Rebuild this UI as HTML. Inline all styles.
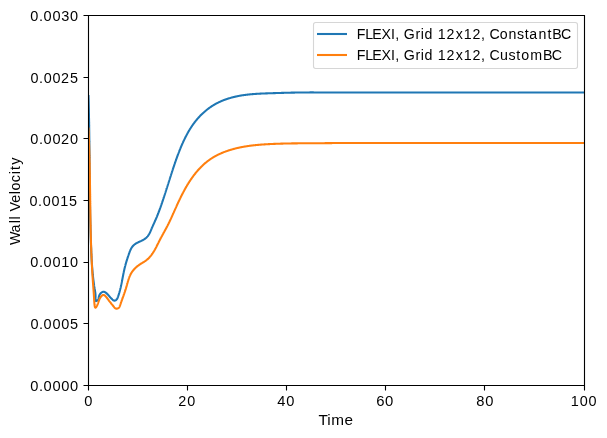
<!DOCTYPE html>
<html><head><meta charset="utf-8"><title>Wall Velocity vs Time</title>
<style>
html,body{margin:0;padding:0;background:#ffffff;}
body{width:607px;height:438px;overflow:hidden;}
svg{display:block;}
text{font-family:"Liberation Sans",sans-serif;font-size:13.889px;fill:#000000;font-kerning:none;}
.tx{opacity:0.999;}
</style></head><body>
<svg width="607" height="438" viewBox="0 0 607 438">
<rect x="0" y="0" width="607" height="438" fill="#ffffff"/>
<defs><clipPath id="axclip"><rect x="88.5" y="15.5" width="496" height="370"/></clipPath></defs>

<g clip-path="url(#axclip)" fill="none" stroke-width="2.083" stroke-linejoin="round" stroke-linecap="square">
<path stroke="#1f77b4" d="M88.50 96.00L88.51 96.38L88.52 96.76L88.53 97.14L88.54 97.52L88.55 97.90L88.56 98.27L88.58 98.65L88.59 99.03L88.60 99.41L88.61 99.79L88.62 100.17L88.63 100.55L88.64 100.93L88.65 101.31L88.66 101.69L88.67 102.06L88.68 102.44L88.69 102.82L88.69 103.20L88.70 103.58L88.71 103.96L88.72 104.34L88.73 104.72L88.74 105.10L88.75 105.47L88.76 105.85L88.77 106.23L88.78 106.61L88.79 106.99L88.79 107.37L88.80 107.75L88.81 108.12L88.82 108.50L88.83 108.88L88.84 109.26L88.85 109.64L88.85 110.02L88.86 110.40L88.87 110.78L88.88 111.15L88.89 111.53L88.89 111.91L88.90 112.29L88.91 112.67L88.92 113.05L88.93 113.42L88.93 113.80L88.94 114.18L88.95 114.56L88.95 114.94L88.96 115.32L88.97 115.70L88.98 116.07L88.98 116.45L88.99 116.83L89.00 117.21L89.00 117.59L89.01 117.97L89.02 118.34L89.03 118.72L89.03 119.10L89.04 119.48L89.05 119.86L89.05 120.24L89.06 120.61L89.06 120.99L89.07 121.37L89.08 121.75L89.08 122.13L89.09 122.50L89.10 122.88L89.10 123.26L89.11 123.64L89.11 124.02L89.12 124.40L89.13 124.77L89.13 125.15L89.14 125.53L89.14 125.91L89.15 126.29L89.16 126.66L89.16 127.04L89.17 127.42L89.17 127.80L89.18 128.18L89.18 128.55L89.19 128.93L89.19 129.31L89.20 129.69L89.20 130.07L89.21 130.44L89.21 130.82L89.22 131.20L89.23 131.58L89.23 131.96L89.24 132.33L89.24 132.71L89.25 133.09L89.25 133.47L89.25 133.85L89.26 134.22L89.26 134.60L89.27 134.98L89.27 135.36L89.28 135.74L89.28 136.11L89.29 136.49L89.29 136.87L89.30 137.25L89.30 137.62L89.31 138.00L89.31 138.38L89.31 138.76L89.32 139.14L89.32 139.51L89.33 139.89L89.33 140.27L89.34 140.65L89.34 141.02L89.34 141.40L89.35 141.78L89.35 142.16L89.36 142.54L89.36 142.91L89.36 143.29L89.37 143.67L89.37 144.05L89.38 144.42L89.38 144.80L89.38 145.18L89.39 145.56L89.39 145.94L89.40 146.31L89.40 146.69L89.40 147.07L89.41 147.45L89.41 147.82L89.42 148.20L89.42 148.58L89.42 148.96L89.43 149.33L89.43 149.71L89.43 150.09L89.44 150.47L89.44 150.85L89.44 151.22L89.45 151.60L89.45 151.98L89.45 152.36L89.46 152.73L89.46 153.11L89.47 153.49L89.47 153.87L89.47 154.24L89.48 154.62L89.48 155.00L89.48 155.38L89.49 155.75L89.49 156.13L89.49 156.51L89.50 156.89L89.50 157.26L89.50 157.64L89.51 158.02L89.51 158.40L89.51 158.78L89.52 159.15L89.52 159.53L89.52 159.91L89.53 160.29L89.53 160.66L89.53 161.04L89.54 161.42L89.54 161.80L89.54 162.17L89.55 162.55L89.55 162.93L89.55 163.31L89.56 163.68L89.56 164.06L89.56 164.44L89.57 164.82L89.57 165.19L89.57 165.57L89.57 165.95L89.58 166.33L89.58 166.70L89.58 167.08L89.59 167.46L89.59 167.84L89.59 168.21L89.60 168.59L89.60 168.97L89.60 169.35L89.61 169.72L89.61 170.10L89.61 170.48L89.62 170.86L89.62 171.24L89.62 171.61L89.63 171.99L89.63 172.37L89.63 172.75L89.64 173.12L89.64 173.50L89.64 173.88L89.65 174.26L89.65 174.63L89.65 175.01L89.66 175.39L89.66 175.77L89.67 176.14L89.67 176.52L89.67 176.90L89.68 177.28L89.68 177.65L89.68 178.03L89.69 178.41L89.69 178.79L89.69 179.16L89.70 179.54L89.70 179.92L89.70 180.30L89.71 180.68L89.71 181.05L89.72 181.43L89.72 181.81L89.72 182.19L89.73 182.56L89.73 182.94L89.73 183.32L89.74 183.70L89.74 184.07L89.75 184.45L89.75 184.83L89.75 185.21L89.76 185.58L89.76 185.96L89.77 186.34L89.77 186.72L89.77 187.10L89.78 187.47L89.78 187.85L89.79 188.23L89.79 188.61L89.79 188.98L89.80 189.36L89.80 189.74L89.81 190.12L89.81 190.50L89.82 190.87L89.82 191.25L89.82 191.63L89.83 192.01L89.83 192.38L89.84 192.76L89.84 193.14L89.85 193.52L89.85 193.90L89.86 194.27L89.86 194.65L89.87 195.03L89.87 195.41L89.88 195.78L89.88 196.16L89.89 196.54L89.89 196.92L89.90 197.30L89.90 197.67L89.91 198.05L89.91 198.43L89.92 198.81L89.92 199.19L89.93 199.56L89.93 199.94L89.94 200.32L89.94 200.70L89.95 201.08L89.95 201.45L89.96 201.83L89.96 202.21L89.97 202.59L89.98 202.96L89.98 203.34L89.99 203.72L89.99 204.10L90.00 204.48L90.00 204.86L90.01 205.23L90.02 205.61L90.02 205.99L90.03 206.37L90.03 206.75L90.04 207.12L90.05 207.50L90.05 207.88L90.06 208.26L90.07 208.64L90.07 209.01L90.08 209.39L90.09 209.77L90.09 210.15L90.10 210.53L90.11 210.91L90.11 211.28L90.12 211.66L90.13 212.04L90.13 212.42L90.14 212.80L90.15 213.17L90.15 213.55L90.16 213.93L90.17 214.31L90.18 214.69L90.18 215.07L90.19 215.44L90.20 215.82L90.21 216.20L90.21 216.58L90.22 216.96L90.23 217.34L90.24 217.71L90.25 218.09L90.25 218.47L90.26 218.85L90.27 219.23L90.28 219.61L90.29 219.99L90.29 220.36L90.30 220.74L90.31 221.12L90.32 221.50L90.33 221.88L90.34 222.26L90.35 222.64L90.35 223.01L90.36 223.39L90.37 223.77L90.38 224.15L90.39 224.53L90.40 224.91L90.41 225.29L90.42 225.66L90.43 226.04L90.44 226.42L90.45 226.80L90.46 227.18L90.47 227.56L90.48 227.94L90.49 228.32L90.50 228.69L90.51 229.07L90.52 229.45L90.53 229.83L90.54 230.21L90.55 230.59L90.56 230.97L90.57 231.35L90.58 231.73L90.59 232.10L90.60 232.48L90.61 232.86L90.62 233.24L90.63 233.62L90.64 234.00L90.65 234.38L90.67 234.76L90.68 235.14L90.69 235.52L90.70 235.90L90.71 236.27L90.72 236.65L90.74 237.03L90.75 237.41L90.76 237.79L90.77 238.17L90.78 238.55L90.80 238.93L90.81 239.31L90.82 239.69L90.83 240.07L90.85 240.45L90.86 240.83L90.87 241.20L90.88 241.58L90.90 241.96L90.91 242.34L90.92 242.72L90.94 243.10L90.95 243.48L90.96 243.86L90.98 244.24L90.99 244.62L91.00 245.00L91.02 245.38L91.03 245.76L91.05 246.14L91.06 246.52L91.08 246.90L91.09 247.28L91.10 247.66L91.12 248.04L91.13 248.42L91.15 248.80L91.16 249.18L91.18 249.55L91.20 249.93L91.21 250.31L91.23 250.69L91.24 251.07L91.26 251.45L91.28 251.83L91.29 252.21L91.31 252.59L91.33 252.97L91.34 253.35L91.36 253.73L91.38 254.11L91.40 254.49L91.41 254.87L91.43 255.25L91.45 255.63L91.47 256.00L91.49 256.38L91.51 256.76L91.53 257.14L91.55 257.52L91.57 257.90L91.59 258.28L91.61 258.66L91.63 259.04L91.65 259.41L91.67 259.79L91.69 260.17L91.72 260.55L91.74 260.93L91.76 261.31L91.78 261.68L91.81 262.06L91.83 262.44L91.85 262.82L91.88 263.19L91.90 263.57L91.93 263.95L91.95 264.33L91.98 264.70L92.01 265.08L92.03 265.46L92.06 265.83L92.09 266.21L92.11 266.59L92.14 266.96L92.17 267.34L92.20 267.72L92.23 268.09L92.26 268.47L92.29 268.84L92.32 269.22L92.35 269.60L92.38 269.97L92.41 270.35L92.45 270.72L92.48 271.10L92.51 271.47L92.54 271.85L92.58 272.22L92.61 272.59L92.65 272.97L92.68 273.34L92.72 273.72L92.76 274.09L92.79 274.46L92.83 274.84L92.87 275.21L92.91 275.58L92.95 275.96L92.99 276.33L93.03 276.70L93.07 277.07L93.11 277.44L93.15 277.82L93.19 278.19L93.23 278.56L93.28 278.93L93.32 279.30L93.37 279.67L93.41 280.04L93.46 280.41L93.50 280.78L93.55 281.15L93.60 281.52L93.64 281.89L93.69 282.26L93.74 282.63L93.79 283.00L93.84 283.37L93.89 283.73L93.94 284.10L94.00 284.47L94.05 284.84L94.10 285.20L94.16 285.57L94.21 285.94L94.27 286.31L94.32 286.67L94.38 287.04L94.44 287.40L94.50 287.77L94.55 288.13L94.61 288.50L94.67 288.86L94.74 289.23L94.80 289.59L94.86 289.96L94.92 290.32L94.98 290.68L95.04 291.05L95.10 291.42L95.16 291.80L95.22 292.17L95.27 292.56L95.32 292.95L95.37 293.34L95.41 293.74L95.44 294.15L95.47 294.57L95.50 295.00L95.52 295.44L95.53 295.89L95.53 296.35L95.53 296.83L95.52 297.31L95.50 297.80L95.49 298.29L95.48 298.76L95.48 299.21L95.49 299.63L95.52 300.01L95.57 300.35L95.65 300.64L95.75 300.86L95.90 301.02L96.08 301.09L96.30 301.08L96.56 300.98L96.84 300.81L97.12 300.59L97.39 300.33L97.63 300.05L97.83 299.74L98.01 299.42L98.17 299.08L98.31 298.72L98.44 298.36L98.55 297.98L98.66 297.60L98.77 297.21L98.87 296.82L98.98 296.43L99.11 296.04L99.24 295.65L99.39 295.27L99.56 294.90L99.75 294.54L99.96 294.19L100.19 293.86L100.44 293.54L100.70 293.25L100.97 292.97L101.26 292.72L101.56 292.50L101.86 292.30L102.17 292.13L102.49 291.99L102.81 291.89L103.14 291.83L103.46 291.80L103.79 291.82L104.11 291.87L104.44 291.96L104.76 292.08L105.08 292.23L105.40 292.41L105.71 292.62L106.03 292.85L106.34 293.10L106.64 293.36L106.95 293.64L107.25 293.94L107.54 294.24L107.83 294.55L108.12 294.87L108.40 295.19L108.68 295.50L108.95 295.82L109.21 296.12L109.47 296.42L109.72 296.71L109.96 296.99L110.20 297.25L110.43 297.51L110.67 297.76L110.90 298.01L111.14 298.25L111.39 298.50L111.64 298.75L111.91 299.01L112.19 299.28L112.48 299.55L112.79 299.82L113.10 300.07L113.43 300.29L113.78 300.46L114.13 300.58L114.49 300.63L114.86 300.60L115.24 300.50L115.60 300.33L115.95 300.11L116.27 299.86L116.55 299.59L116.80 299.29L117.02 298.99L117.21 298.67L117.38 298.33L117.53 297.99L117.67 297.65L117.81 297.30L117.94 296.94L118.06 296.59L118.19 296.24L118.31 295.88L118.43 295.53L118.55 295.17L118.67 294.81L118.78 294.46L118.89 294.10L119.00 293.74L119.11 293.38L119.22 293.02L119.32 292.66L119.43 292.29L119.53 291.93L119.63 291.57L119.73 291.20L119.83 290.84L119.92 290.47L120.02 290.11L120.11 289.74L120.20 289.37L120.29 289.00L120.38 288.64L120.47 288.27L120.56 287.90L120.64 287.53L120.73 287.16L120.81 286.79L120.90 286.42L120.98 286.05L121.06 285.68L121.14 285.30L121.22 284.93L121.30 284.56L121.37 284.19L121.45 283.81L121.53 283.44L121.60 283.07L121.68 282.70L121.75 282.32L121.83 281.95L121.90 281.57L121.97 281.20L122.05 280.83L122.12 280.45L122.19 280.08L122.26 279.71L122.34 279.33L122.41 278.96L122.48 278.58L122.55 278.21L122.62 277.84L122.70 277.46L122.77 277.09L122.84 276.72L122.91 276.34L122.98 275.97L123.06 275.60L123.13 275.23L123.20 274.86L123.28 274.48L123.35 274.11L123.42 273.74L123.50 273.37L123.57 273.00L123.65 272.63L123.73 272.26L123.80 271.89L123.88 271.52L123.96 271.15L124.04 270.79L124.12 270.42L124.20 270.05L124.28 269.69L124.37 269.32L124.45 268.96L124.54 268.59L124.62 268.23L124.71 267.86L124.80 267.50L124.89 267.14L124.98 266.78L125.07 266.42L125.17 266.06L125.26 265.70L125.36 265.34L125.45 264.98L125.55 264.62L125.65 264.26L125.75 263.90L125.85 263.54L125.95 263.18L126.06 262.82L126.16 262.47L126.26 262.11L126.37 261.75L126.48 261.39L126.59 261.03L126.70 260.67L126.81 260.32L126.92 259.96L127.03 259.60L127.14 259.24L127.26 258.88L127.37 258.52L127.49 258.16L127.61 257.80L127.73 257.43L127.85 257.07L127.97 256.71L128.09 256.35L128.21 255.98L128.34 255.62L128.46 255.25L128.59 254.89L128.71 254.52L128.84 254.15L128.97 253.78L129.10 253.41L129.23 253.05L129.37 252.68L129.50 252.31L129.64 251.94L129.78 251.58L129.93 251.21L130.07 250.85L130.23 250.50L130.38 250.14L130.54 249.79L130.71 249.44L130.88 249.10L131.05 248.76L131.23 248.43L131.42 248.10L131.61 247.77L131.81 247.46L132.02 247.15L132.23 246.85L132.45 246.55L132.68 246.26L132.92 245.98L133.16 245.71L133.42 245.45L133.68 245.20L133.95 244.95L134.23 244.72L134.52 244.49L134.81 244.27L135.11 244.06L135.42 243.85L135.73 243.65L136.05 243.46L136.38 243.27L136.71 243.09L137.04 242.91L137.38 242.73L137.72 242.56L138.07 242.39L138.41 242.23L138.76 242.06L139.11 241.90L139.46 241.73L139.81 241.57L140.16 241.41L140.51 241.25L140.86 241.08L141.21 240.92L141.56 240.75L141.90 240.58L142.25 240.40L142.58 240.23L142.92 240.05L143.25 239.86L143.58 239.67L143.90 239.47L144.21 239.27L144.53 239.06L144.83 238.85L145.13 238.63L145.42 238.40L145.71 238.17L145.99 237.93L146.26 237.68L146.53 237.43L146.79 237.17L147.05 236.90L147.30 236.63L147.54 236.36L147.78 236.07L148.00 235.78L148.23 235.49L148.44 235.19L148.65 234.88L148.85 234.56L149.04 234.24L149.23 233.92L149.42 233.59L149.59 233.25L149.77 232.91L149.93 232.57L150.10 232.22L150.26 231.88L150.41 231.52L150.57 231.17L150.72 230.81L150.87 230.46L151.02 230.10L151.17 229.74L151.31 229.38L151.46 229.02L151.61 228.67L151.76 228.31L151.90 227.95L152.05 227.60L152.21 227.25L152.36 226.90L152.51 226.55L152.67 226.20L152.82 225.85L152.98 225.50L153.13 225.16L153.29 224.81L153.45 224.47L153.61 224.13L153.76 223.79L153.92 223.44L154.08 223.10L154.24 222.76L154.39 222.42L154.55 222.08L154.71 221.73L154.86 221.39L155.02 221.05L155.17 220.70L155.32 220.36L155.47 220.02L155.62 219.67L155.77 219.33L155.92 218.98L156.07 218.64L156.22 218.29L156.37 217.94L156.51 217.60L156.66 217.25L156.80 216.90L156.95 216.55L157.09 216.20L157.23 215.85L157.37 215.50L157.51 215.16L157.65 214.81L157.79 214.45L157.93 214.10L158.07 213.75L158.20 213.40L158.34 213.05L158.48 212.70L158.61 212.34L158.75 211.99L158.88 211.64L159.01 211.29L159.15 210.93L159.28 210.58L159.41 210.22L159.54 209.87L159.67 209.52L159.80 209.16L159.93 208.81L160.06 208.45L160.19 208.09L160.32 207.74L160.44 207.38L160.57 207.03L160.70 206.67L160.82 206.31L160.95 205.96L161.07 205.60L161.20 205.24L161.32 204.88L161.45 204.53L161.57 204.17L161.69 203.81L161.81 203.45L161.94 203.09L162.06 202.73L162.18 202.38L162.30 202.02L162.42 201.66L162.54 201.30L162.66 200.94L162.78 200.58L162.90 200.22L163.02 199.86L163.14 199.50L163.26 199.14L163.38 198.78L163.49 198.42L163.61 198.06L163.73 197.70L163.85 197.34L163.97 196.98L164.08 196.62L164.20 196.26L164.32 195.90L164.43 195.54L164.55 195.18L164.67 194.82L164.78 194.46L164.90 194.10L165.01 193.74L165.13 193.38L165.25 193.02L165.36 192.66L165.48 192.30L165.59 191.94L165.71 191.58L165.82 191.22L165.94 190.86L166.05 190.50L166.17 190.14L166.28 189.78L166.40 189.42L166.51 189.05L166.63 188.69L166.74 188.33L166.86 187.97L166.97 187.61L167.09 187.25L167.20 186.89L167.32 186.53L167.43 186.17L167.55 185.81L167.66 185.45L167.77 185.09L167.89 184.73L168.00 184.37L168.12 184.01L168.23 183.65L168.35 183.29L168.46 182.93L168.58 182.57L168.69 182.21L168.81 181.85L168.92 181.49L169.03 181.13L169.15 180.77L169.26 180.41L169.38 180.05L169.49 179.69L169.61 179.33L169.72 178.97L169.84 178.61L169.95 178.25L170.07 177.89L170.18 177.53L170.30 177.17L170.41 176.81L170.53 176.45L170.65 176.09L170.76 175.73L170.88 175.37L170.99 175.01L171.11 174.65L171.22 174.29L171.34 173.93L171.46 173.57L171.57 173.21L171.69 172.85L171.81 172.49L171.92 172.13L172.04 171.78L172.16 171.42L172.28 171.06L172.39 170.70L172.51 170.34L172.63 169.98L172.75 169.62L172.87 169.26L172.98 168.90L173.10 168.54L173.22 168.19L173.34 167.83L173.46 167.47L173.58 167.11L173.70 166.75L173.82 166.39L173.94 166.04L174.06 165.68L174.18 165.32L174.30 164.96L174.42 164.60L174.54 164.24L174.67 163.89L174.79 163.53L174.91 163.17L175.03 162.81L175.16 162.46L175.28 162.10L175.40 161.74L175.53 161.38L175.65 161.03L175.78 160.67L175.90 160.31L176.03 159.96L176.15 159.60L176.28 159.24L176.40 158.89L176.53 158.53L176.66 158.18L176.79 157.82L176.91 157.47L177.04 157.11L177.17 156.75L177.30 156.40L177.43 156.05L177.56 155.69L177.69 155.34L177.83 154.98L177.96 154.63L178.09 154.27L178.22 153.92L178.36 153.57L178.49 153.21L178.63 152.86L178.76 152.51L178.90 152.15L179.04 151.80L179.17 151.45L179.31 151.10L179.45 150.75L179.59 150.39L179.73 150.04L179.87 149.69L180.01 149.34L180.15 148.99L180.29 148.64L180.44 148.29L180.58 147.94L180.72 147.59L180.87 147.24L181.02 146.89L181.16 146.55L181.31 146.20L181.46 145.85L181.61 145.50L181.76 145.16L181.91 144.81L182.06 144.46L182.21 144.12L182.36 143.77L182.51 143.42L182.67 143.08L182.82 142.73L182.98 142.39L183.14 142.04L183.29 141.70L183.45 141.36L183.61 141.01L183.77 140.67L183.93 140.33L184.10 139.99L184.26 139.64L184.42 139.30L184.59 138.96L184.75 138.62L184.92 138.28L185.09 137.94L185.26 137.60L185.43 137.26L185.60 136.93L185.77 136.59L185.94 136.25L186.12 135.92L186.29 135.58L186.47 135.24L186.65 134.91L186.82 134.58L187.00 134.24L187.18 133.91L187.37 133.58L187.55 133.25L187.73 132.92L187.92 132.59L188.10 132.26L188.29 131.93L188.48 131.60L188.67 131.27L188.86 130.95L189.05 130.62L189.25 130.30L189.44 129.97L189.64 129.65L189.84 129.32L190.03 129.00L190.23 128.68L190.44 128.36L190.64 128.04L190.84 127.72L191.05 127.41L191.25 127.09L191.46 126.77L191.67 126.46L191.88 126.15L192.09 125.83L192.31 125.52L192.52 125.21L192.74 124.90L192.96 124.59L193.18 124.28L193.40 123.98L193.62 123.67L193.84 123.36L194.07 123.06L194.30 122.76L194.52 122.46L194.75 122.16L194.99 121.86L195.22 121.56L195.45 121.26L195.69 120.96L195.93 120.67L196.17 120.37L196.41 120.08L196.65 119.79L196.89 119.50L197.14 119.21L197.39 118.92L197.63 118.64L197.88 118.35L198.13 118.07L198.39 117.78L198.64 117.50L198.90 117.22L199.15 116.94L199.41 116.67L199.67 116.39L199.93 116.12L200.20 115.84L200.46 115.57L200.73 115.30L200.99 115.03L201.26 114.76L201.53 114.50L201.80 114.23L202.08 113.97L202.35 113.71L202.62 113.45L202.90 113.19L203.18 112.93L203.46 112.68L203.74 112.42L204.02 112.17L204.31 111.92L204.59 111.67L204.88 111.42L205.16 111.18L205.45 110.93L205.74 110.69L206.04 110.45L206.33 110.21L206.62 109.97L206.92 109.73L207.22 109.50L207.51 109.27L207.81 109.04L208.11 108.81L208.42 108.58L208.72 108.35L209.02 108.13L209.33 107.91L209.64 107.69L209.94 107.47L210.25 107.25L210.56 107.04L210.88 106.83L211.19 106.62L211.50 106.41L211.82 106.20L212.14 106.00L212.45 105.79L212.77 105.59L213.09 105.39L213.42 105.20L213.74 105.00L214.06 104.81L214.39 104.62L214.71 104.43L215.04 104.24L215.37 104.06L215.70 103.87L216.03 103.69L216.36 103.51L216.69 103.34L217.03 103.16L217.36 102.99L217.70 102.82L218.04 102.65L218.38 102.49L218.71 102.32L219.06 102.16L219.40 102.00L219.74 101.84L220.08 101.68L220.43 101.53L220.77 101.37L221.12 101.22L221.46 101.07L221.81 100.93L222.16 100.78L222.51 100.64L222.86 100.49L223.21 100.35L223.56 100.22L223.91 100.08L224.27 99.94L224.62 99.81L224.98 99.68L225.33 99.55L225.69 99.42L226.04 99.30L226.40 99.17L226.76 99.05L227.12 98.93L227.48 98.81L227.84 98.69L228.20 98.58L228.56 98.47L228.92 98.35L229.28 98.24L229.65 98.13L230.01 98.03L230.37 97.92L230.74 97.82L231.10 97.71L231.47 97.61L231.84 97.51L232.20 97.42L232.57 97.32L232.94 97.23L233.30 97.13L233.67 97.04L234.04 96.95L234.41 96.86L234.78 96.78L235.15 96.69L235.52 96.61L235.88 96.53L236.26 96.44L236.63 96.37L237.00 96.29L237.37 96.21L237.74 96.14L238.11 96.06L238.48 95.99L238.85 95.92L239.22 95.85L239.60 95.78L239.97 95.71L240.34 95.65L240.71 95.58L241.09 95.52L241.46 95.46L241.83 95.40L242.20 95.34L242.58 95.28L242.95 95.22L243.32 95.17L243.70 95.11L244.07 95.06L244.45 95.01L244.82 94.96L245.20 94.91L245.57 94.86L245.94 94.81L246.32 94.76L246.69 94.72L247.07 94.67L247.44 94.63L247.82 94.59L248.19 94.55L248.57 94.50L248.95 94.47L249.32 94.43L249.70 94.39L250.07 94.35L250.45 94.32L250.83 94.28L251.20 94.25L251.58 94.21L251.95 94.18L252.33 94.15L252.71 94.12L253.09 94.09L253.46 94.06L253.84 94.03L254.22 94.00L254.59 93.97L254.97 93.95L255.35 93.92L255.72 93.89L256.10 93.87L256.48 93.84L256.86 93.82L257.23 93.80L257.61 93.78L257.99 93.75L258.37 93.73L258.75 93.71L259.12 93.69L259.50 93.67L259.88 93.65L260.26 93.63L260.64 93.62L261.01 93.60L261.39 93.58L261.77 93.56L262.15 93.55L262.53 93.53L262.91 93.51L263.28 93.50L263.66 93.48L264.04 93.47L264.42 93.45L264.80 93.44L265.18 93.42L265.55 93.41L265.93 93.40L266.31 93.38L266.69 93.37L267.07 93.36L267.45 93.34L267.82 93.33L268.20 93.32L268.58 93.31L268.96 93.29L269.34 93.28L269.72 93.27L270.10 93.26L270.47 93.24L270.85 93.23L271.23 93.22L271.61 93.21L271.99 93.19L272.36 93.18L272.74 93.17L273.12 93.16L273.50 93.15L273.88 93.13L274.26 93.12L274.63 93.11L275.01 93.10L275.39 93.09L275.77 93.07L276.15 93.06L276.52 93.05L276.90 93.04L277.28 93.03L277.66 93.02L278.04 93.00L278.41 92.99L278.79 92.98L279.17 92.97L279.55 92.96L279.93 92.95L280.30 92.94L280.68 92.93L281.06 92.92L281.44 92.90L281.82 92.89L282.19 92.88L282.57 92.87L282.95 92.86L283.33 92.85L283.70 92.84L284.08 92.83L284.46 92.82L284.84 92.81L285.22 92.80L285.59 92.79L285.97 92.78L286.35 92.77L286.73 92.76L287.11 92.75L287.48 92.74L287.86 92.73L288.24 92.72L288.62 92.72L288.99 92.71L289.37 92.70L289.75 92.69L290.13 92.68L290.51 92.67L290.88 92.66L291.26 92.66L291.64 92.65L292.02 92.64L292.39 92.63L292.77 92.62L293.15 92.62L293.53 92.61L293.91 92.60L294.28 92.59L294.66 92.59L295.04 92.58L295.42 92.57L295.79 92.56L296.17 92.56L296.55 92.55L296.93 92.54L297.31 92.54L297.68 92.53L298.06 92.53L298.44 92.52L298.82 92.51L299.20 92.51L299.57 92.50L299.95 92.50L300.33 92.49L300.71 92.49L301.08 92.48L301.46 92.48L301.84 92.47L302.22 92.47L302.60 92.46L302.97 92.46L303.35 92.46L303.73 92.45L304.11 92.45L304.49 92.45L304.86 92.44L305.24 92.44L305.62 92.44L306.00 92.43L306.38 92.43L306.75 92.43L307.13 92.43L307.51 92.42L307.89 92.42L308.27 92.42L308.65 92.42L309.02 92.42L309.40 92.42L309.78 92.41L310.16 92.41L310.54 92.41L310.92 92.41L311.29 92.41L311.67 92.41L312.05 92.41L312.43 92.41L312.81 92.41L313.19 92.41L313.56 92.41L313.94 92.42L314.32 92.42L314.70 92.42L315.08 92.42L315.46 92.42L315.83 92.42L316.21 92.43L316.59 92.43L316.97 92.43L317.35 92.43L317.73 92.44L318.11 92.44L318.49 92.44L318.86 92.45L319.24 92.45L319.62 92.46L320.00 92.46L584.50 92.42"/>
<path stroke="#ff7f0e" d="M88.50 128.60L88.52 128.95L88.53 129.30L88.55 129.66L88.57 130.01L88.58 130.36L88.60 130.71L88.62 131.06L88.63 131.42L88.65 131.77L88.66 132.12L88.68 132.47L88.69 132.82L88.71 133.18L88.73 133.53L88.74 133.88L88.76 134.23L88.77 134.58L88.79 134.94L88.80 135.29L88.81 135.64L88.83 135.99L88.84 136.34L88.86 136.69L88.87 137.05L88.89 137.40L88.90 137.75L88.91 138.10L88.93 138.45L88.94 138.81L88.95 139.16L88.97 139.51L88.98 139.86L88.99 140.21L89.01 140.56L89.02 140.92L89.03 141.27L89.04 141.62L89.06 141.97L89.07 142.32L89.08 142.67L89.09 143.03L89.11 143.38L89.12 143.73L89.13 144.08L89.14 144.43L89.15 144.78L89.16 145.13L89.18 145.49L89.19 145.84L89.20 146.19L89.21 146.54L89.22 146.89L89.23 147.24L89.24 147.60L89.25 147.95L89.26 148.30L89.27 148.65L89.28 149.00L89.30 149.35L89.31 149.70L89.32 150.06L89.33 150.41L89.34 150.76L89.35 151.11L89.36 151.46L89.37 151.81L89.38 152.16L89.38 152.51L89.39 152.87L89.40 153.22L89.41 153.57L89.42 153.92L89.43 154.27L89.44 154.62L89.45 154.97L89.46 155.33L89.47 155.68L89.48 156.03L89.49 156.38L89.49 156.73L89.50 157.08L89.51 157.43L89.52 157.78L89.53 158.13L89.54 158.49L89.54 158.84L89.55 159.19L89.56 159.54L89.57 159.89L89.58 160.24L89.58 160.59L89.59 160.94L89.60 161.30L89.61 161.65L89.62 162.00L89.62 162.35L89.63 162.70L89.64 163.05L89.64 163.40L89.65 163.75L89.66 164.10L89.67 164.45L89.67 164.81L89.68 165.16L89.69 165.51L89.69 165.86L89.70 166.21L89.71 166.56L89.71 166.91L89.72 167.26L89.73 167.61L89.73 167.97L89.74 168.32L89.75 168.67L89.75 169.02L89.76 169.37L89.77 169.72L89.77 170.07L89.78 170.42L89.78 170.77L89.79 171.12L89.80 171.47L89.80 171.83L89.81 172.18L89.81 172.53L89.82 172.88L89.83 173.23L89.83 173.58L89.84 173.93L89.84 174.28L89.85 174.63L89.85 174.98L89.86 175.33L89.87 175.69L89.87 176.04L89.88 176.39L89.88 176.74L89.89 177.09L89.89 177.44L89.90 177.79L89.90 178.14L89.91 178.49L89.91 178.84L89.92 179.19L89.92 179.54L89.93 179.90L89.93 180.25L89.94 180.60L89.94 180.95L89.95 181.30L89.95 181.65L89.96 182.00L89.96 182.35L89.97 182.70L89.97 183.05L89.98 183.40L89.98 183.75L89.99 184.11L89.99 184.46L90.00 184.81L90.00 185.16L90.01 185.51L90.01 185.86L90.02 186.21L90.02 186.56L90.02 186.91L90.03 187.26L90.03 187.61L90.04 187.96L90.04 188.31L90.05 188.67L90.05 189.02L90.06 189.37L90.06 189.72L90.07 190.07L90.07 190.42L90.07 190.77L90.08 191.12L90.08 191.47L90.09 191.82L90.09 192.17L90.10 192.52L90.10 192.87L90.11 193.23L90.11 193.58L90.11 193.93L90.12 194.28L90.12 194.63L90.13 194.98L90.13 195.33L90.14 195.68L90.14 196.03L90.14 196.38L90.15 196.73L90.15 197.08L90.16 197.43L90.16 197.79L90.17 198.14L90.17 198.49L90.18 198.84L90.18 199.19L90.18 199.54L90.19 199.89L90.19 200.24L90.20 200.59L90.20 200.94L90.21 201.29L90.21 201.64L90.22 201.99L90.22 202.34L90.22 202.70L90.23 203.05L90.23 203.40L90.24 203.75L90.24 204.10L90.25 204.45L90.25 204.80L90.26 205.15L90.26 205.50L90.27 205.85L90.27 206.20L90.27 206.55L90.28 206.90L90.28 207.26L90.29 207.61L90.29 207.96L90.30 208.31L90.30 208.66L90.31 209.01L90.31 209.36L90.32 209.71L90.32 210.06L90.33 210.41L90.33 210.76L90.34 211.11L90.34 211.47L90.35 211.82L90.35 212.17L90.36 212.52L90.36 212.87L90.37 213.22L90.37 213.57L90.38 213.92L90.39 214.27L90.39 214.62L90.40 214.97L90.40 215.32L90.41 215.68L90.41 216.03L90.42 216.38L90.42 216.73L90.43 217.08L90.44 217.43L90.44 217.78L90.45 218.13L90.45 218.48L90.46 218.83L90.46 219.18L90.47 219.54L90.48 219.89L90.48 220.24L90.49 220.59L90.49 220.94L90.50 221.29L90.51 221.64L90.51 221.99L90.52 222.34L90.53 222.69L90.53 223.04L90.54 223.40L90.55 223.75L90.55 224.10L90.56 224.45L90.57 224.80L90.57 225.15L90.58 225.50L90.59 225.85L90.59 226.20L90.60 226.55L90.61 226.91L90.61 227.26L90.62 227.61L90.63 227.96L90.64 228.31L90.64 228.66L90.65 229.01L90.66 229.36L90.67 229.71L90.67 230.06L90.68 230.42L90.69 230.77L90.70 231.12L90.71 231.47L90.71 231.82L90.72 232.17L90.73 232.52L90.74 232.87L90.75 233.23L90.76 233.58L90.76 233.93L90.77 234.28L90.78 234.63L90.79 234.98L90.80 235.33L90.81 235.68L90.82 236.03L90.83 236.39L90.83 236.74L90.84 237.09L90.85 237.44L90.86 237.79L90.87 238.14L90.88 238.49L90.89 238.84L90.90 239.20L90.91 239.55L90.92 239.90L90.93 240.25L90.94 240.60L90.95 240.95L90.96 241.30L90.97 241.66L90.98 242.01L90.99 242.36L91.00 242.71L91.01 243.06L91.02 243.41L91.03 243.76L91.05 244.12L91.06 244.47L91.07 244.82L91.08 245.17L91.09 245.52L91.10 245.87L91.11 246.22L91.12 246.58L91.14 246.93L91.15 247.28L91.16 247.63L91.17 247.98L91.18 248.33L91.20 248.68L91.21 249.04L91.22 249.39L91.23 249.74L91.25 250.09L91.26 250.44L91.27 250.79L91.29 251.15L91.30 251.50L91.31 251.85L91.33 252.20L91.34 252.55L91.35 252.90L91.37 253.26L91.38 253.61L91.39 253.96L91.41 254.31L91.42 254.66L91.44 255.02L91.45 255.37L91.46 255.72L91.48 256.07L91.49 256.42L91.51 256.77L91.52 257.13L91.54 257.48L91.55 257.83L91.57 258.18L91.59 258.53L91.60 258.89L91.62 259.24L91.63 259.59L91.65 259.94L91.66 260.29L91.68 260.65L91.70 261.00L91.71 261.35L91.73 261.70L91.75 262.05L91.76 262.41L91.78 262.76L91.80 263.11L91.81 263.46L91.83 263.81L91.85 264.17L91.87 264.52L91.89 264.87L91.90 265.22L91.92 265.57L91.94 265.93L91.96 266.28L91.98 266.63L92.00 266.98L92.01 267.34L92.03 267.69L92.05 268.04L92.07 268.39L92.09 268.75L92.11 269.10L92.13 269.45L92.15 269.80L92.17 270.15L92.19 270.51L92.21 270.86L92.23 271.21L92.25 271.56L92.27 271.92L92.29 272.27L92.31 272.62L92.33 272.97L92.36 273.33L92.38 273.68L92.40 274.03L92.42 274.38L92.44 274.74L92.46 275.09L92.49 275.44L92.51 275.79L92.53 276.15L92.55 276.50L92.58 276.85L92.60 277.21L92.62 277.56L92.65 277.91L92.67 278.26L92.69 278.62L92.72 278.97L92.74 279.32L92.77 279.68L92.79 280.03L92.81 280.38L92.84 280.73L92.86 281.09L92.89 281.44L92.91 281.79L92.94 282.15L92.96 282.50L92.99 282.85L93.02 283.20L93.04 283.56L93.07 283.91L93.09 284.26L93.12 284.62L93.15 284.97L93.17 285.32L93.20 285.67L93.23 286.03L93.25 286.38L93.28 286.73L93.31 287.08L93.33 287.43L93.36 287.78L93.39 288.13L93.41 288.48L93.44 288.83L93.47 289.17L93.49 289.52L93.52 289.87L93.54 290.21L93.57 290.56L93.59 290.90L93.62 291.24L93.64 291.59L93.67 291.93L93.69 292.27L93.71 292.61L93.74 292.95L93.76 293.28L93.78 293.62L93.81 293.95L93.83 294.29L93.85 294.62L93.87 294.95L93.89 295.28L93.91 295.61L93.93 295.93L93.95 296.26L93.97 296.58L93.99 296.90L94.00 297.23L94.02 297.55L94.04 297.88L94.06 298.21L94.08 298.54L94.09 298.87L94.11 299.22L94.13 299.56L94.16 299.92L94.18 300.28L94.20 300.66L94.23 301.04L94.25 301.43L94.28 301.84L94.31 302.25L94.35 302.68L94.38 303.13L94.42 303.59L94.46 304.06L94.50 304.53L94.55 305.01L94.61 305.46L94.67 305.90L94.75 306.31L94.83 306.69L94.92 307.01L95.03 307.28L95.15 307.49L95.28 307.63L95.43 307.69L95.59 307.66L95.77 307.55L95.97 307.35L96.17 307.10L96.37 306.80L96.57 306.47L96.76 306.12L96.95 305.78L97.12 305.43L97.28 305.08L97.44 304.73L97.58 304.39L97.72 304.05L97.85 303.70L97.98 303.36L98.10 303.02L98.21 302.68L98.33 302.35L98.44 302.01L98.55 301.68L98.66 301.35L98.77 301.02L98.88 300.70L99.00 300.38L99.12 300.06L99.24 299.74L99.37 299.43L99.50 299.12L99.64 298.81L99.79 298.51L99.95 298.21L100.11 297.91L100.29 297.62L100.48 297.33L100.68 297.05L100.89 296.77L101.12 296.49L101.36 296.22L101.62 295.96L101.89 295.70L102.18 295.46L102.47 295.26L102.77 295.10L103.08 295.00L103.38 294.96L103.69 294.99L103.99 295.07L104.29 295.21L104.59 295.39L104.88 295.60L105.17 295.85L105.45 296.13L105.73 296.42L106.00 296.73L106.27 297.05L106.52 297.37L106.77 297.69L107.01 298.00L107.24 298.30L107.47 298.59L107.68 298.88L107.90 299.16L108.11 299.44L108.31 299.72L108.51 299.99L108.72 300.26L108.92 300.53L109.12 300.80L109.33 301.07L109.53 301.34L109.74 301.61L109.95 301.88L110.16 302.15L110.38 302.42L110.59 302.69L110.81 302.97L111.02 303.24L111.24 303.51L111.46 303.79L111.68 304.06L111.90 304.34L112.13 304.61L112.35 304.89L112.58 305.17L112.80 305.44L113.03 305.72L113.26 306.01L113.49 306.29L113.71 306.57L113.94 306.85L114.17 307.14L114.41 307.42L114.65 307.68L114.90 307.93L115.16 308.15L115.44 308.34L115.74 308.49L116.06 308.60L116.40 308.66L116.77 308.66L117.14 308.61L117.52 308.52L117.88 308.38L118.23 308.21L118.54 308.01L118.81 307.78L119.05 307.53L119.25 307.25L119.43 306.96L119.59 306.64L119.73 306.32L119.86 305.99L119.98 305.65L120.10 305.31L120.21 304.97L120.32 304.63L120.44 304.29L120.55 303.95L120.67 303.62L120.78 303.28L120.90 302.95L121.02 302.61L121.13 302.28L121.25 301.94L121.37 301.61L121.49 301.28L121.60 300.95L121.72 300.62L121.84 300.29L121.96 299.96L122.08 299.63L122.19 299.30L122.31 298.97L122.43 298.64L122.55 298.31L122.67 297.99L122.78 297.66L122.90 297.33L123.02 297.00L123.14 296.68L123.25 296.35L123.37 296.02L123.49 295.70L123.61 295.37L123.72 295.04L123.84 294.72L123.95 294.39L124.07 294.06L124.18 293.73L124.30 293.40L124.41 293.08L124.52 292.75L124.63 292.42L124.75 292.09L124.86 291.76L124.97 291.43L125.08 291.10L125.19 290.77L125.30 290.44L125.40 290.10L125.51 289.77L125.62 289.44L125.72 289.10L125.83 288.77L125.93 288.43L126.03 288.09L126.13 287.76L126.23 287.42L126.33 287.08L126.43 286.74L126.53 286.40L126.63 286.05L126.72 285.71L126.82 285.37L126.91 285.02L127.01 284.68L127.10 284.34L127.20 283.99L127.30 283.65L127.39 283.30L127.49 282.96L127.58 282.61L127.68 282.27L127.78 281.93L127.88 281.58L127.98 281.24L128.08 280.90L128.19 280.56L128.29 280.22L128.40 279.88L128.51 279.54L128.62 279.20L128.73 278.86L128.85 278.53L128.96 278.20L129.08 277.86L129.21 277.53L129.33 277.20L129.46 276.88L129.59 276.55L129.73 276.23L129.86 275.91L130.01 275.59L130.15 275.27L130.30 274.96L130.45 274.65L130.61 274.34L130.77 274.03L130.94 273.73L131.11 273.43L131.28 273.13L131.46 272.83L131.64 272.54L131.83 272.25L132.02 271.96L132.22 271.68L132.42 271.40L132.62 271.12L132.83 270.85L133.05 270.57L133.26 270.30L133.48 270.04L133.71 269.77L133.94 269.51L134.17 269.25L134.40 269.00L134.64 268.75L134.88 268.50L135.13 268.25L135.38 268.01L135.63 267.76L135.89 267.53L136.15 267.29L136.41 267.06L136.68 266.83L136.94 266.60L137.22 266.37L137.49 266.15L137.77 265.93L138.05 265.72L138.33 265.50L138.62 265.29L138.90 265.08L139.19 264.88L139.49 264.68L139.78 264.48L140.08 264.28L140.38 264.08L140.68 263.89L140.98 263.70L141.29 263.51L141.59 263.32L141.90 263.14L142.21 262.95L142.51 262.76L142.82 262.58L143.12 262.39L143.43 262.20L143.73 262.02L144.03 261.83L144.33 261.64L144.63 261.44L144.92 261.25L145.22 261.05L145.50 260.85L145.79 260.64L146.07 260.44L146.35 260.22L146.62 260.01L146.89 259.79L147.15 259.57L147.42 259.34L147.68 259.11L147.93 258.88L148.18 258.64L148.43 258.40L148.68 258.16L148.92 257.92L149.16 257.67L149.39 257.42L149.62 257.16L149.85 256.91L150.08 256.65L150.30 256.39L150.52 256.12L150.74 255.85L150.96 255.58L151.17 255.31L151.38 255.04L151.59 254.76L151.79 254.48L151.99 254.20L152.19 253.92L152.39 253.63L152.59 253.34L152.78 253.05L152.97 252.76L153.16 252.47L153.35 252.17L153.54 251.88L153.72 251.58L153.90 251.28L154.09 250.98L154.26 250.67L154.44 250.37L154.62 250.06L154.79 249.75L154.97 249.45L155.14 249.14L155.31 248.83L155.48 248.51L155.65 248.20L155.82 247.89L155.98 247.57L156.15 247.26L156.31 246.94L156.48 246.63L156.64 246.31L156.80 245.99L156.96 245.67L157.13 245.36L157.29 245.04L157.45 244.72L157.61 244.40L157.77 244.08L157.93 243.76L158.09 243.44L158.25 243.12L158.40 242.80L158.56 242.48L158.72 242.16L158.88 241.84L159.04 241.52L159.20 241.20L159.36 240.89L159.52 240.57L159.69 240.25L159.85 239.94L160.01 239.62L160.17 239.31L160.34 238.99L160.50 238.68L160.67 238.37L160.83 238.05L161.00 237.74L161.16 237.43L161.33 237.12L161.50 236.81L161.66 236.50L161.83 236.19L162.00 235.88L162.17 235.57L162.33 235.26L162.50 234.96L162.67 234.65L162.84 234.34L163.01 234.03L163.18 233.73L163.34 233.42L163.51 233.11L163.68 232.81L163.85 232.50L164.02 232.20L164.19 231.89L164.35 231.58L164.52 231.28L164.69 230.97L164.86 230.67L165.03 230.36L165.19 230.06L165.36 229.75L165.53 229.44L165.69 229.14L165.86 228.83L166.02 228.53L166.19 228.22L166.35 227.91L166.52 227.61L166.68 227.30L166.84 226.99L167.00 226.68L167.16 226.38L167.33 226.07L167.49 225.76L167.65 225.45L167.80 225.14L167.96 224.83L168.12 224.52L168.28 224.21L168.43 223.90L168.59 223.58L168.74 223.27L168.89 222.96L169.04 222.65L169.20 222.33L169.35 222.02L169.50 221.70L169.65 221.39L169.79 221.07L169.94 220.76L170.09 220.44L170.24 220.12L170.38 219.81L170.53 219.49L170.68 219.17L170.82 218.85L170.97 218.53L171.11 218.21L171.26 217.90L171.40 217.58L171.54 217.26L171.69 216.94L171.83 216.62L171.97 216.30L172.12 215.98L172.26 215.66L172.40 215.34L172.55 215.02L172.69 214.70L172.83 214.38L172.98 214.05L173.12 213.73L173.26 213.41L173.41 213.09L173.55 212.77L173.69 212.45L173.84 212.13L173.98 211.81L174.12 211.48L174.27 211.16L174.41 210.84L174.55 210.52L174.70 210.20L174.84 209.88L174.99 209.56L175.13 209.23L175.28 208.91L175.42 208.59L175.57 208.27L175.71 207.95L175.86 207.63L176.00 207.30L176.15 206.98L176.29 206.66L176.44 206.34L176.58 206.02L176.73 205.70L176.88 205.38L177.02 205.06L177.17 204.74L177.32 204.42L177.47 204.09L177.61 203.77L177.76 203.45L177.91 203.13L178.06 202.81L178.21 202.49L178.36 202.17L178.51 201.85L178.66 201.53L178.81 201.22L178.96 200.90L179.11 200.58L179.26 200.26L179.42 199.94L179.57 199.62L179.72 199.30L179.87 198.99L180.03 198.67L180.18 198.35L180.34 198.03L180.49 197.72L180.65 197.40L180.80 197.08L180.96 196.77L181.12 196.45L181.27 196.14L181.43 195.82L181.59 195.51L181.75 195.19L181.91 194.88L182.07 194.56L182.23 194.25L182.39 193.94L182.55 193.62L182.71 193.31L182.87 193.00L183.04 192.69L183.20 192.37L183.36 192.06L183.53 191.75L183.70 191.44L183.86 191.13L184.03 190.82L184.20 190.51L184.36 190.20L184.53 189.89L184.70 189.59L184.87 189.28L185.04 188.97L185.21 188.67L185.38 188.36L185.56 188.05L185.73 187.75L185.90 187.44L186.08 187.14L186.25 186.83L186.43 186.53L186.61 186.23L186.79 185.93L186.96 185.62L187.14 185.32L187.32 185.02L187.50 184.72L187.69 184.42L187.87 184.12L188.05 183.82L188.24 183.53L188.42 183.23L188.61 182.93L188.79 182.64L188.98 182.34L189.17 182.04L189.36 181.75L189.55 181.46L189.74 181.16L189.93 180.87L190.12 180.58L190.32 180.29L190.51 180.00L190.71 179.71L190.90 179.42L191.10 179.13L191.30 178.84L191.50 178.55L191.70 178.27L191.90 177.98L192.10 177.69L192.31 177.41L192.51 177.13L192.72 176.84L192.92 176.56L193.13 176.28L193.34 176.00L193.55 175.72L193.76 175.44L193.97 175.16L194.18 174.88L194.40 174.60L194.61 174.33L194.83 174.05L195.04 173.78L195.26 173.50L195.48 173.23L195.70 172.96L195.92 172.69L196.15 172.41L196.37 172.15L196.59 171.88L196.82 171.61L197.05 171.34L197.28 171.07L197.50 170.81L197.74 170.54L197.97 170.28L198.20 170.02L198.43 169.76L198.67 169.50L198.91 169.24L199.14 168.98L199.38 168.72L199.62 168.47L199.86 168.21L200.11 167.96L200.35 167.70L200.59 167.45L200.84 167.20L201.09 166.95L201.33 166.70L201.58 166.46L201.83 166.21L202.09 165.97L202.34 165.72L202.59 165.48L202.85 165.24L203.11 165.00L203.36 164.76L203.62 164.53L203.88 164.29L204.14 164.06L204.41 163.82L204.67 163.59L204.93 163.36L205.20 163.14L205.47 162.91L205.74 162.68L206.01 162.46L206.28 162.24L206.55 162.02L206.82 161.80L207.10 161.58L207.37 161.36L207.65 161.15L207.93 160.93L208.21 160.72L208.49 160.51L208.77 160.30L209.06 160.10L209.34 159.89L209.63 159.69L209.91 159.49L210.20 159.29L210.49 159.09L210.78 158.89L211.08 158.70L211.37 158.50L211.66 158.31L211.96 158.12L212.26 157.94L212.55 157.75L212.85 157.57L213.15 157.38L213.46 157.20L213.76 157.02L214.06 156.85L214.37 156.67L214.67 156.50L214.98 156.32L215.29 156.15L215.60 155.98L215.91 155.82L216.22 155.65L216.53 155.49L216.84 155.32L217.16 155.16L217.47 155.00L217.79 154.85L218.11 154.69L218.42 154.54L218.74 154.38L219.06 154.23L219.38 154.08L219.70 153.93L220.02 153.79L220.34 153.64L220.67 153.50L220.99 153.35L221.32 153.21L221.64 153.07L221.97 152.94L222.29 152.80L222.62 152.66L222.95 152.53L223.28 152.40L223.60 152.27L223.93 152.14L224.26 152.01L224.59 151.88L224.93 151.76L225.26 151.63L225.59 151.51L225.92 151.39L226.25 151.27L226.59 151.15L226.92 151.04L227.25 150.92L227.59 150.81L227.92 150.69L228.26 150.58L228.59 150.47L228.93 150.36L229.27 150.25L229.60 150.15L229.94 150.04L230.28 149.94L230.61 149.83L230.95 149.73L231.29 149.63L231.63 149.53L231.96 149.43L232.30 149.34L232.64 149.24L232.98 149.15L233.32 149.05L233.66 148.96L234.00 148.87L234.33 148.78L234.67 148.69L235.01 148.61L235.35 148.52L235.69 148.43L236.04 148.35L236.38 148.27L236.72 148.19L237.06 148.10L237.40 148.02L237.74 147.95L238.08 147.87L238.42 147.79L238.77 147.72L239.11 147.64L239.45 147.57L239.79 147.49L240.14 147.42L240.48 147.35L240.82 147.28L241.17 147.21L241.51 147.15L241.85 147.08L242.20 147.01L242.54 146.95L242.88 146.89L243.23 146.82L243.57 146.76L243.92 146.70L244.26 146.64L244.61 146.58L244.95 146.52L245.30 146.46L245.64 146.41L245.99 146.35L246.33 146.30L246.68 146.24L247.03 146.19L247.37 146.14L247.72 146.08L248.07 146.03L248.41 145.98L248.76 145.93L249.11 145.89L249.45 145.84L249.80 145.79L250.15 145.74L250.49 145.70L250.84 145.65L251.19 145.61L251.54 145.57L251.88 145.52L252.23 145.48L252.58 145.44L252.93 145.40L253.28 145.36L253.62 145.32L253.97 145.28L254.32 145.24L254.67 145.21L255.02 145.17L255.37 145.13L255.72 145.10L256.07 145.06L256.41 145.03L256.76 145.00L257.11 144.96L257.46 144.93L257.81 144.90L258.16 144.87L258.51 144.84L258.86 144.81L259.21 144.78L259.56 144.75L259.91 144.72L260.26 144.69L260.61 144.66L260.96 144.64L261.31 144.61L261.66 144.58L262.01 144.56L262.36 144.53L262.71 144.51L263.06 144.48L263.41 144.46L263.76 144.44L264.11 144.41L264.46 144.39L264.81 144.37L265.16 144.35L265.52 144.32L265.87 144.30L266.22 144.28L266.57 144.26L266.92 144.24L267.27 144.22L267.62 144.20L267.97 144.18L268.32 144.16L268.67 144.15L269.02 144.13L269.38 144.11L269.73 144.09L270.08 144.07L270.43 144.06L270.78 144.04L271.13 144.02L271.48 144.01L271.83 143.99L272.19 143.97L272.54 143.96L272.89 143.94L273.24 143.93L273.59 143.91L273.94 143.90L274.29 143.88L274.64 143.87L275.00 143.85L275.35 143.84L275.70 143.83L276.05 143.81L276.40 143.80L276.75 143.79L277.10 143.77L277.45 143.76L277.81 143.75L278.16 143.74L278.51 143.73L278.86 143.71L279.21 143.70L279.56 143.69L279.91 143.68L280.27 143.67L280.62 143.66L280.97 143.65L281.32 143.64L281.67 143.63L282.02 143.62L282.38 143.61L282.73 143.60L283.08 143.59L283.43 143.58L283.78 143.57L284.13 143.56L284.48 143.55L284.84 143.55L285.19 143.54L285.54 143.53L285.89 143.52L286.24 143.51L286.59 143.51L286.95 143.50L287.30 143.49L287.65 143.48L288.00 143.48L288.35 143.47L288.70 143.46L289.06 143.46L289.41 143.45L289.76 143.44L290.11 143.44L290.46 143.43L290.81 143.42L291.17 143.42L291.52 143.41L291.87 143.41L292.22 143.40L292.57 143.40L292.92 143.39L293.28 143.39L293.63 143.38L293.98 143.38L294.33 143.37L294.68 143.37L295.03 143.36L295.39 143.36L295.74 143.36L296.09 143.35L296.44 143.35L296.79 143.34L297.14 143.34L297.50 143.34L297.85 143.33L298.20 143.33L298.55 143.32L298.90 143.32L299.25 143.32L299.61 143.31L299.96 143.31L300.31 143.31L300.66 143.31L301.01 143.30L301.36 143.30L301.72 143.30L302.07 143.29L302.42 143.29L302.77 143.29L303.12 143.29L303.47 143.28L303.83 143.28L304.18 143.28L304.53 143.28L304.88 143.28L305.23 143.27L305.58 143.27L305.94 143.27L306.29 143.27L306.64 143.26L306.99 143.26L307.34 143.26L307.69 143.26L308.05 143.26L308.40 143.26L308.75 143.25L309.10 143.25L309.45 143.25L309.80 143.25L310.16 143.25L310.51 143.24L310.86 143.24L311.21 143.24L311.56 143.24L311.91 143.24L312.27 143.24L312.62 143.23L312.97 143.23L313.32 143.23L313.67 143.23L314.02 143.23L314.37 143.23L314.73 143.22L315.08 143.22L315.43 143.22L315.78 143.22L316.13 143.22L316.48 143.22L316.83 143.21L317.19 143.21L317.54 143.21L317.89 143.21L318.24 143.21L318.59 143.20L318.94 143.20L319.29 143.20L319.65 143.20L320.00 143.20L320.35 143.19L320.70 143.19L321.05 143.19L321.40 143.19L321.75 143.19L322.11 143.18L322.46 143.18L322.81 143.18L323.16 143.18L323.51 143.17L323.86 143.17L324.21 143.17L324.56 143.17L324.91 143.16L325.27 143.16L325.62 143.16L325.97 143.15L326.32 143.15L326.67 143.15L327.02 143.14L327.37 143.14L327.72 143.14L328.07 143.13L328.43 143.13L328.78 143.13L329.13 143.12L329.48 143.12L329.83 143.11L330.18 143.11L330.53 143.11L330.88 143.10L331.23 143.10L331.58 143.09L331.94 143.09L332.29 143.08L332.64 143.08L332.99 143.07L333.34 143.07L333.69 143.06L334.04 143.06L334.39 143.05L334.74 143.05L335.09 143.04L335.44 143.03L335.79 143.03L336.14 143.02L336.49 143.02L336.84 143.01L337.20 143.00L337.55 143.00L337.90 142.99L338.25 142.98L338.60 142.97L338.95 142.97L339.30 142.96L339.65 142.95L340.00 142.94L584.50 142.93"/>
</g>
<g stroke="#000000" stroke-width="1.111" fill="none" stroke-linecap="butt">
<path d="M88.5 385.5V15.5M584.5 385.5V15.5M88.5 385.5H584.5M88.5 15.5H584.5" stroke-linecap="square"/>
<path d="M83.500 15.5H88.5M83.500 77.5H88.5M83.500 138.5H88.5M83.500 200.5H88.5M83.500 262.5H88.5M83.500 323.5H88.5M83.500 385.5H88.5M88.5 385.5V390.500M187.5 385.5V390.500M286.5 385.5V390.500M385.5 385.5V390.500M484.5 385.5V390.500M584.5 385.5V390.500"/>
</g>
<rect x="313.5" y="22.5" width="264" height="46" rx="2.2" ry="2.2" fill="#ffffff" fill-opacity="0.8" stroke="#d6d6d6" stroke-width="1.111"/>
<path d="M317 34H347" stroke="#1f77b4" stroke-width="2.083" fill="none"/>
<path d="M317 55H347" stroke="#ff7f0e" stroke-width="2.083" fill="none"/>
<g class="tx">
<text transform="matrix(1.0472 0 0 1.0200 30.000 21.000)" x="0.35 8.60 12.99 21.42 29.87 38.28" y="0">0.0030</text>
<text transform="matrix(1.0367 0 0 1.0200 30.000 83.000)" x="0.40 8.71 13.17 21.68 30.02 38.66" y="0">0.0025</text>
<text transform="matrix(1.0482 0 0 1.0200 30.000 144.000)" x="0.35 8.59 12.98 21.40 29.65 38.25" y="0">0.0020</text>
<text transform="matrix(1.0353 0 0 1.0200 29.000 206.000)" x="0.40 8.72 13.19 21.72 30.17 38.72" y="0">0.0015</text>
<text transform="matrix(1.0469 0 0 1.0200 30.000 267.000)" x="0.36 8.61 13.00 21.43 29.80 38.30" y="0">0.0010</text>
<text transform="matrix(1.0439 0 0 1.0200 30.000 329.000)" x="0.37 8.64 13.05 21.51 29.96 38.37" y="0">0.0005</text>
<text transform="matrix(1.0552 0 0 1.0200 30.000 391.000)" x="0.32 8.52 12.87 21.23 29.60 37.96" y="0">0.0000</text>
<text transform="matrix(1.0541 0 0 1.0200 84.000 406.000)" x="0.33" y="0">0</text>
<text transform="matrix(1.0356 0 0 1.0200 178.000 406.000)" x="0.22 8.93" y="0">20</text>
<text transform="matrix(1.0542 0 0 1.0200 277.000 406.000)" x="0.32 8.70" y="0">40</text>
<text transform="matrix(1.0722 0 0 1.0200 375.933 406.000)" x="0.26 8.49" y="0">60</text>
<text transform="matrix(1.0598 0 0 1.0200 476.000 406.000)" x="0.30 8.63" y="0">80</text>
<text transform="matrix(1.0394 0 0 1.0200 570.540 406.000)" x="0.32 8.88 17.37" y="0">100</text>
<text transform="matrix(1.1034 0 0 1.0200 319.000 425.000)" x="-0.39 7.55 11.21 23.12" y="0">Time</text>
<text transform="translate(20.000 245.000) rotate(-90) scale(1.0314 1.0200)" x="0.10 12.21 21.02 24.76 28.38 32.42 40.87 49.16 52.83 60.87 68.53 72.61 77.72" y="0">Wall Velocity</text>
<text transform="matrix(1.0213 0 0 1.0200 357.041 39.000)" x="-0.35 8.03 15.01 23.97 33.35 37.38 41.83 45.78 57.20 62.39 66.18 74.66 79.14 87.68 96.56 104.47 113.00 121.46 125.92 129.66 139.79 148.28 156.58 164.19 168.62 177.62 186.46 191.10 199.82" y="0">FLEXI, Grid 12x12, ConstantBC</text>
<text transform="matrix(1.0253 0 0 1.0200 357.051 60.000)" x="-0.37 7.98 14.93 23.86 33.21 37.22 41.66 45.58 56.97 62.14 65.90 74.36 78.82 87.32 96.17 104.05 112.55 120.98 125.42 129.14 139.35 147.67 155.26 160.16 169.01 181.34 190.02" y="0">FLEXI, Grid 12x12, CustomBC</text>
</g>
</svg>
</body></html>
